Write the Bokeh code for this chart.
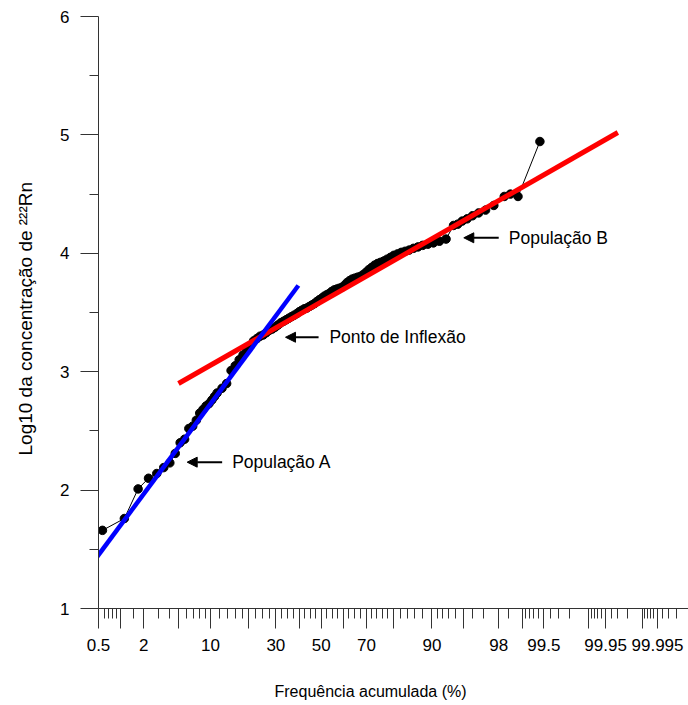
from statistics import NormalDist
from bokeh.plotting import figure
from bokeh.models import FixedTicker, Arrow, NormalHead, Label, Range1d, Title
from bokeh.embed import file_html
from bokeh.resources import INLINE

# ---------------- data ----------------
freq_pct = [0.57, 1.14, 1.71, 2.29, 2.86, 3.43, 4.00, 4.57, 5.14, 5.71,
            6.29, 6.86, 7.43, 8.00, 8.57, 9.14, 9.71, 10.29, 10.86, 11.43,
            12.57, 13.71, 14.86, 16.00, 17.14, 18.29, 19.43, 20.57, 21.71, 22.86,
            24.00, 25.14, 26.29, 27.43, 28.57, 29.71, 30.86, 32.00, 33.14, 34.29,
            35.43, 36.57, 37.71, 38.86, 40.00, 41.14, 42.29, 43.43, 44.57, 45.71,
            46.86, 48.00, 49.14, 50.29, 51.43, 52.57, 53.71, 54.86, 56.00, 57.14,
            58.29, 59.43, 60.57, 61.71, 62.86, 64.00, 65.14, 66.29, 67.43, 68.57,
            69.71, 70.86, 72.00, 73.14, 74.29, 75.43, 76.57, 77.71, 78.86, 80.00,
            81.14, 82.29, 83.43, 84.57, 85.71, 86.86, 88.00, 89.14, 90.29, 91.43,
            92.57, 93.71, 94.29, 94.86, 95.43, 96.00, 96.57, 97.14, 97.71, 98.29,
            98.57, 98.86, 99.43]
log_conc = [1.66, 1.76, 2.01, 2.10, 2.14, 2.19, 2.23, 2.31, 2.40, 2.43,
            2.52, 2.54, 2.59, 2.65, 2.68, 2.71, 2.73, 2.76, 2.79, 2.82,
            2.86, 2.90, 3.01, 3.05, 3.10, 3.14, 3.18, 3.22, 3.26, 3.28,
            3.30, 3.31, 3.33, 3.35, 3.36, 3.376, 3.394, 3.413, 3.426, 3.439,
            3.452, 3.465, 3.477, 3.49, 3.507, 3.519, 3.531, 3.538, 3.551, 3.563,
            3.575, 3.592, 3.608, 3.621, 3.638, 3.65, 3.661, 3.678, 3.691, 3.698,
            3.705, 3.712, 3.729, 3.752, 3.769, 3.782, 3.79, 3.798, 3.805, 3.819,
            3.838, 3.861, 3.88, 3.90, 3.914, 3.924, 3.935, 3.95, 3.966, 3.983,
            3.995, 4.008, 4.017, 4.027, 4.042, 4.054, 4.067, 4.077, 4.088, 4.102,
            4.12, 4.235, 4.246, 4.272, 4.291, 4.317, 4.341, 4.365, 4.404, 4.48,
            4.50, 4.48, 4.944]

# fitted lines (cumulative %, log10 value)
pop_a_pct = [0.355, 39.6]
pop_a_val = [1.338, 3.728]
pop_b_pct = [4.94, 99.97]
pop_b_val = [2.900, 5.020]

# probability axis ticks
x_label_ticks = [0.5, 2, 10, 30, 50, 70, 90, 98, 99.5, 99.95, 99.995]
x_label_text = ["0.5", "2", "10", "30", "50", "70", "90", "98", "99.5", "99.95", "99.995"]
x_long_unlabeled = [1, 5, 20, 40, 60, 80, 95, 99, 99.9, 99.99]
x_short_ticks = [0.6, 0.7, 0.8, 0.9, 1.5, 3, 4, 6, 7, 8, 9,
                 12, 14, 16, 18, 22.5, 25, 27.5, 32.5, 35, 37.5,
                 42.5, 45, 47.5, 52.5, 55, 57.5, 62.5, 65, 67.5,
                 72, 74, 76, 78, 82, 84, 86, 88, 91, 92, 93, 94, 96, 97, 98.5,
                 99.1, 99.2, 99.3, 99.4, 99.6, 99.7, 99.8,
                 99.91, 99.92, 99.93, 99.94, 99.96, 99.97, 99.98,
                 99.991, 99.992, 99.993, 99.994, 99.996, 99.997, 99.998]
y_ticks = [1, 2, 3, 4, 5, 6]
y_minor = [1.5, 2.5, 3.5, 4.5, 5.5]

x_title = "Frequência acumulada (%)"
y_title = "Log10 da concentração de \u00b2\u00b2\u00b2Rn"

# annotations: (text, text_pct, arrow_tail_pct, arrow_head_pct, value)
notes = [("População A", 15.15, 12.6, 6.06, 2.236),
         ("Ponto de Inflexão", 53.8, 48.8, 34.0, 3.291),
         ("População B", 98.5, 98.0, 95.05, 4.131)]

# ---------------- probability transform ----------------
nd = NormalDist()


def pz(p):
    return round(nd.inv_cdf(p / 100.0), 6)


FONT = "Liberation Sans"

p = figure(width=688, height=705, output_backend="svg", toolbar_location=None,
           x_range=Range1d(pz(0.5), 4.249), y_range=Range1d(1, 6),
           min_border_left=98, min_border_right=0, min_border_top=16,
           min_border_bottom=97)
p.outline_line_color = None
p.xgrid.visible = False
p.ygrid.visible = False
p.background_fill_color = "white"
p.border_fill_color = "white"

xs = [pz(v) for v in freq_pct]
p.line(xs, log_conc, line_color="black", line_width=1)
p.scatter(xs, log_conc, size=8.5, fill_color="black", line_color="black")

p.line([pz(v) for v in pop_b_pct], pop_b_val, line_color="#FF0000", line_width=5)
p.line([pz(v) for v in pop_a_pct], pop_a_val, line_color="#0000FF", line_width=4.5)

for text, tp, tail, head, val in notes:
    p.add_layout(Arrow(end=NormalHead(size=10, fill_color="black", line_color="black"),
                       x_start=pz(tail), y_start=val, x_end=pz(head), y_end=val,
                       line_color="black", line_width=2))
    p.add_layout(Label(x=pz(tp), y=val, text=text, text_font=FONT,
                       text_font_size="17.5px", text_baseline="middle",
                       text_color="black"))

# axis titles as side titles (blank spacer panels push them outward)
p.add_layout(Title(text=" ", standoff=5, text_font=FONT, text_font_size="16px"), "below")
p.add_layout(Title(text=x_title, align="left", offset=176, standoff=6,
                   text_font=FONT, text_font_size="16px", text_font_style="normal",
                   text_color="black"), "below")
p.add_layout(Title(text=" ", standoff=2, text_font=FONT, text_font_size="16px"), "left")
p.add_layout(Title(text=y_title, align="left", offset=153, standoff=2,
                   text_font=FONT, text_font_size="19px", text_font_style="normal",
                   text_color="black"), "left")

# x axis (normal probability scale)
major_x = [pz(v) for v in x_label_ticks] + [pz(v) for v in x_long_unlabeled]
overrides = {pz(v): t for v, t in zip(x_label_ticks, x_label_text)}
overrides.update({pz(v): "" for v in x_long_unlabeled})
p.xaxis.ticker = FixedTicker(ticks=sorted(major_x),
                             minor_ticks=[pz(v) for v in x_short_ticks])
p.xaxis.major_label_overrides = overrides
p.xaxis.major_tick_out = 20
p.xaxis.major_tick_in = 0
p.xaxis.minor_tick_out = 10
p.xaxis.minor_tick_in = 0
p.xaxis.major_label_standoff = 10

p.yaxis.ticker = FixedTicker(ticks=y_ticks, minor_ticks=y_minor)
p.yaxis.major_tick_out = 18
p.yaxis.major_tick_in = 0
p.yaxis.minor_tick_out = 9
p.yaxis.minor_tick_in = 0
p.yaxis.major_label_standoff = 11

for ax in (p.xaxis[0], p.yaxis[0]):
    ax.axis_line_color = "#333333"
    ax.major_tick_line_color = "#333333"
    ax.minor_tick_line_color = "#333333"
    ax.major_label_text_font = FONT
    ax.major_label_text_font_size = "17px"
    ax.major_label_text_color = "black"

open("out.html", "w").write(file_html(p, INLINE))
